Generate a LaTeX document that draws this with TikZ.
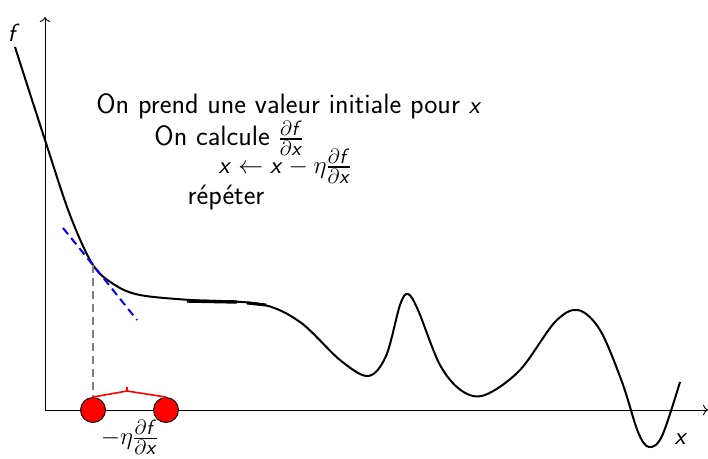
\documentclass[tikz,border=0pt]{standalone}
\usepackage{amsmath, amssymb}
\usepackage{xcolor}
\usepackage{tikz}
\usetikzlibrary{positioning, arrows.meta, calc}

% lettres italiques sans empattement en mode math
\DeclareSymbolFont{sfslanted}{OT1}{cmss}{m}{sl}
\DeclareMathSymbol{x}{\mathalpha}{sfslanted}{`x}
\DeclareMathSymbol{f}{\mathalpha}{sfslanted}{`f}

\begin{document}
\begin{tikzpicture}[
    x=1pt, y=-1pt,
    txt/.style={font=\fontsize{28}{33}\selectfont\sffamily, inner sep=0pt},
    axis/.style={-{To[length=5pt]}, line width=0.9pt},
    ball/.style={circle, draw=black, line width=0.9pt, fill=red, minimum size=25pt, inner sep=0pt},
    courbe/.style={line width=2pt}
]
    \useasboundingbox (0,0) rectangle (708,458);
    % axes
    \coordinate (o) at (45,410);
    \coordinate (xend) at (708,410);
    \coordinate (yend) at (45,17);
    \draw[axis] (o) -- (xend);
    \draw[axis] (o) -- (yend);
    \node[txt] (flab) at (14,33) {$f$};
    \node[txt] (xlab) at (681,439) {$x$};

    % la fonction
    \draw[courbe] plot[smooth, tension=0.55] coordinates {
        (15,47) (45,140) (70,215) (93,265) (115,285) (140,295) (190,300) (260,304)
        (300,322) (340,360) (368,376) (386,356) (400,305) (408,294) (418,310)
        (440,365) (462,391) (485,395) (520,370) (555,322) (578,310) (600,330)
        (622,382) (638,432) (649,447) (662,436) (680,382)};
    \draw[line width=3.4pt] (187,301) -- (237,302);
    \draw[line width=3pt] (247,303) -- (266,305);

    % tangente
    \coordinate (pt) at (93,265);
    \draw[blue, line width=2pt, dash pattern=on 8pt off 5pt] (63,228) -- (pt) -- (137,320);

    % billes
    \node[ball] (b1) at (93,410) {};
    \node[ball] (b2) at (166,410) {};
    \draw[gray, line width=1.8pt, dash pattern=on 8pt off 5pt] (pt) -- (b1.north);
    \coordinate (mid) at (127,391);
    \draw[red, line width=1.6pt] (b1.north) -- (mid) -- (b2.north);
    \draw[red, line width=1.6pt] (mid) -- ++(0,-4);
    \node[txt, below=10pt of $(b1)!0.5!(b2)$] (step) {$-\eta\frac{\partial f}{\partial x}$};

    % algorithme
    \node[txt] (l1) at (289,106) {On prend une valeur initiale pour $x$};
    \node[txt] (l2) at (229,138) {On calcule $\frac{\partial f}{\partial x}$};
    \node[txt] (l3) at (285,166) {$x \leftarrow x - \eta\frac{\partial f}{\partial x}$};
    \node[txt] (l4) at (226,198) {répéter};
\end{tikzpicture}
\end{document}
